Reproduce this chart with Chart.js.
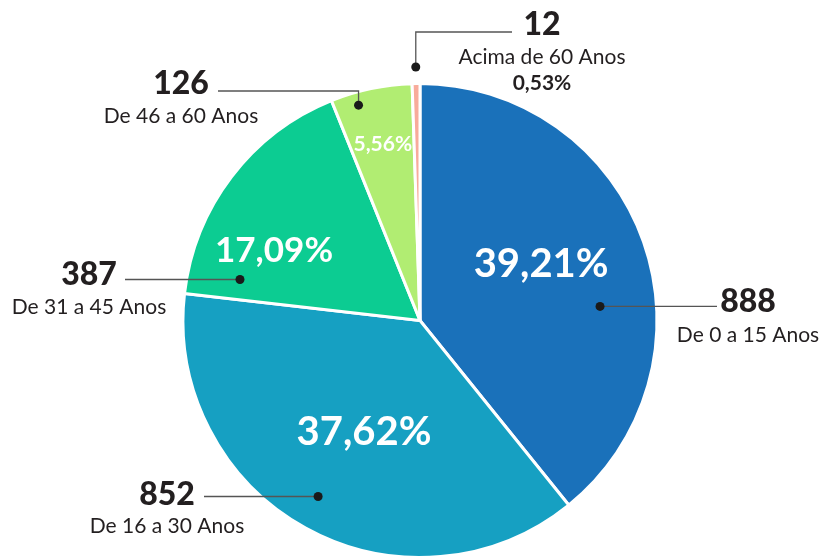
<!DOCTYPE html>
<html><head><meta charset="utf-8">
<script src="https://cdn.jsdelivr.net/npm/chart.js@4.4.1/dist/chart.umd.min.js"></script>
<style>html,body{margin:0;padding:0;background:#fff}canvas{display:block}</style>
</head><body>
<canvas id="c" width="824" height="559"></canvas>
<script>
const categories = ["De 0 a 15 Anos", "De 16 a 30 Anos", "De 31 a 45 Anos", "De 46 a 60 Anos", "Acima de 60 Anos"];
const counts = [888, 852, 387, 126, 12];
const colors = ["#1a71ba", "#16a0c2", "#0ccc92", "#b1ed72", "#f8ab9b"];

const total = counts.reduce((a, b) => a + b, 0);
const percentLabels = counts.map(v => (v / total * 100).toFixed(2).replace('.', ','));

// Layout of annotations (positions relative to each slice / fixed text anchors)
const FONT = "Lato, 'Open Sans', sans-serif";
const TEXT = "#231f20";
const annot = [
  {pct: {a: 0.462, r: 0.563, size: 40}, dot: {a: 0.606, r: 0.762}, path: d => [[717, d.y]], tx: 748, numY: 312, subY: 342},
  {pct: {a: 0.483, r: 0.528, size: 40}, dot: {a: 0.509, r: 0.858}, path: d => [[204, d.y]], tx: 167, numY: 505, subY: 533},
  {pct: {a: 0.31, r: 0.683, size: 35}, dot: {a: 0.102, r: 0.779}, path: d => [[125, d.y]], tx: 89, numY: 285, subY: 314},
  {pct: {a: 0.5, r: 0.76, size: 21}, dot: {a: 0.3, r: 0.945}, path: d => [[d.x, 91], [218, 91]], tx: 181, numY: 94, subY: 123},
  {pct: null, dot: {a: 0.5, r: 1.07}, path: d => [[d.x, 32], [512, 32]], tx: 542, numY: 35, subY: 64, pctBelowY: 90}
];

const labelPlugin = {
  id: 'callouts',
  afterDatasetsDraw(chart) {
    const ctx = chart.ctx;
    const meta = chart.getDatasetMeta(0);
    meta.data.forEach((arc, i) => {
      const p = arc.getProps(['x', 'y', 'startAngle', 'endAngle', 'outerRadius'], true);
      const cfg = annot[i];
      const pos = (a, r) => {
        const ang = p.startAngle + a * (p.endAngle - p.startAngle);
        return {x: p.x + Math.cos(ang) * p.outerRadius * r, y: p.y + Math.sin(ang) * p.outerRadius * r};
      };
      ctx.save();
      if (cfg.pct) {
        const t = pos(cfg.pct.a, cfg.pct.r);
        ctx.fillStyle = '#ffffff';
        ctx.font = `bold ${cfg.pct.size}px ${FONT}`;
        ctx.textAlign = 'center';
        ctx.textBaseline = 'middle';
        ctx.fillText(percentLabels[i] + '%', t.x, t.y);
      }
      const d = pos(cfg.dot.a, cfg.dot.r);
      const pts = cfg.path(d);
      ctx.strokeStyle = '#555555';
      ctx.lineWidth = 1.3;
      ctx.beginPath();
      ctx.moveTo(d.x, d.y);
      pts.forEach(q => ctx.lineTo(q[0], q[1]));
      ctx.stroke();
      ctx.fillStyle = '#1a1a1a';
      ctx.beginPath();
      ctx.arc(d.x, d.y, 4.5, 0, Math.PI * 2);
      ctx.fill();
      ctx.fillStyle = TEXT;
      ctx.textAlign = 'center';
      ctx.textBaseline = 'alphabetic';
      ctx.font = `900 32px ${FONT}`;
      ctx.fillText(String(counts[i]), cfg.tx, cfg.numY);
      ctx.font = `400 21px ${FONT}`;
      ctx.fillText(categories[i], cfg.tx, cfg.subY);
      if (cfg.pctBelowY) {
        ctx.font = `bold 21px ${FONT}`;
        ctx.fillText(percentLabels[i] + '%', cfg.tx, cfg.pctBelowY);
      }
      ctx.restore();
    });
  }
};

new Chart(document.getElementById('c'), {
  type: 'pie',
  data: {
    labels: categories,
    datasets: [{
      data: counts,
      backgroundColor: colors,
      borderColor: '#ffffff',
      borderWidth: 3
    }]
  },
  options: {
    responsive: false,
    animation: false,
    layout: {padding: {top: 82, left: 16, right: 0, bottom: 0}},
    plugins: {legend: {display: false}, tooltip: {enabled: false}}
  },
  plugins: [labelPlugin]
});
</script>
</body></html>
